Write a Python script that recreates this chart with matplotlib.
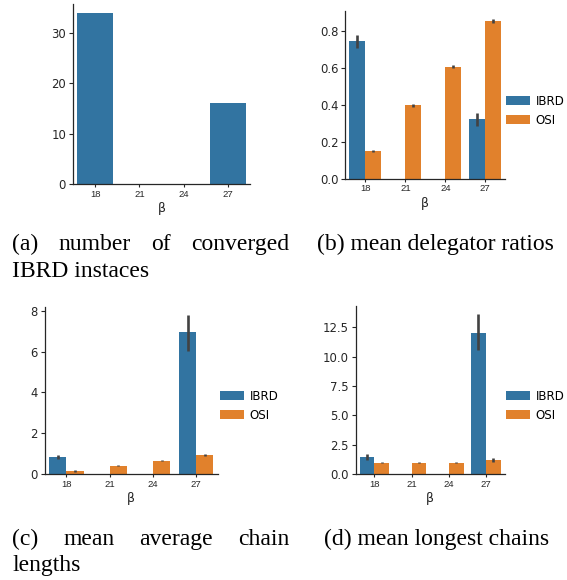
import matplotlib
matplotlib.use('Agg')
import numpy as np
from matplotlib import pyplot as plt

# data
betas = ['18', '21', '24', '27']
converged = [34, 0, 0, 16]

deleg_ibrd = [0.748, np.nan, np.nan, 0.322]
deleg_ibrd_lo = [0.710, np.nan, np.nan, 0.286]
deleg_ibrd_hi = [0.778, np.nan, np.nan, 0.356]
deleg_osi = [0.149, 0.397, 0.607, 0.855]
deleg_osi_lo = [0.143, 0.388, 0.597, 0.845]
deleg_osi_hi = [0.155, 0.405, 0.618, 0.866]

avg_ibrd = [0.83, np.nan, np.nan, 6.96]
avg_ibrd_lo = [0.72, np.nan, np.nan, 6.03]
avg_ibrd_hi = [0.93, np.nan, np.nan, 7.82]
avg_osi = [0.15, 0.39, 0.64, 0.93]
avg_osi_lo = [0.12, 0.37, 0.62, 0.90]
avg_osi_hi = [0.18, 0.42, 0.67, 0.97]

long_ibrd = [1.47, np.nan, np.nan, 12.0]
long_ibrd_lo = [1.19, np.nan, np.nan, 10.54]
long_ibrd_hi = [1.70, np.nan, np.nan, 13.66]
long_osi = [0.96, 0.97, 0.96, 1.19]
long_osi_lo = [0.93, 0.94, 0.93, 1.00]
long_osi_hi = [1.00, 1.00, 1.00, 1.39]

labels = ['IBRD', 'OSI']
BLUE = '#3274a1'
ORANGE = '#e1812c'
ERR = '#424242'
INK = '#262626'

W, H = 567, 580
fig = plt.figure(figsize=(W / 100, H / 100), dpi=100)


def px_axes(left, top, right, bottom):
    return fig.add_axes([left / W, 1 - bottom / H, (right - left) / W, (bottom - top) / H])


def style(ax):
    for s in ['top', 'right']:
        ax.spines[s].set_visible(False)
    for s in ['left', 'bottom']:
        ax.spines[s].set_linewidth(0.9)
        ax.spines[s].set_color(INK)
    ax.tick_params(axis='y', labelsize=8.4, length=3, width=0.8, pad=2, colors=INK)
    ax.tick_params(axis='x', labelsize=6.8, length=2.5, width=0.8, pad=1.5, colors=INK)
    ax.set_xlim(-0.5, len(betas) - 0.5)
    ax.set_xticks(range(len(betas)))
    ax.set_xticklabels(betas, family='Liberation Sans')
    ax.set_xlabel('β', fontsize=9, color=INK, labelpad=2.5)


def err(ax, xs, lo, hi):
    for x, a, b in zip(xs, lo, hi):
        if np.isnan(a):
            continue
        ax.plot([x, x], [a, b], color=ERR, lw=1.9, solid_capstyle='butt')


def grouped(ax, ibrd, ibrd_lo, ibrd_hi, osi, osi_lo, osi_hi, legend_px):
    x = np.arange(len(betas))
    ax.bar(x - 0.2, np.nan_to_num(ibrd), 0.4, color=BLUE, label=labels[0])
    ax.bar(x + 0.2, osi, 0.4, color=ORANGE, label=labels[1])
    err(ax, x - 0.2, ibrd_lo, ibrd_hi)
    err(ax, x + 0.2, osi_lo, osi_hi)
    top = np.nanmax(np.concatenate([ibrd_hi, osi_hi]))
    ax.set_ylim(0, top * 1.05)
    style(ax)
    ax.legend(loc='center left', bbox_to_anchor=(legend_px[0] / W, 1 - legend_px[1] / H),
              bbox_transform=fig.transFigure, frameon=False, fontsize=8.6,
              borderpad=0, borderaxespad=0, handlelength=2.0, handleheight=0.72,
              handletextpad=0.5, labelspacing=0.5)


# (a)
ax_a = px_axes(73, 4, 250, 184)
ax_a.bar(np.arange(len(betas)), converged, 0.8, color=BLUE)
ax_a.set_ylim(0, max(converged) * 1.05)
style(ax_a)

# (b)
ax_b = px_axes(345.3, 10.7, 505.3, 178.7)
grouped(ax_b, deleg_ibrd, deleg_ibrd_lo, deleg_ibrd_hi,
        deleg_osi, deleg_osi_lo, deleg_osi_hi, (506, 110.8))

# (c)
ax_c = px_axes(44.8, 306.7, 217.8, 474)
grouped(ax_c, avg_ibrd, avg_ibrd_lo, avg_ibrd_hi,
        avg_osi, avg_osi_lo, avg_osi_hi, (220, 405.9))

# (d)
ax_d = px_axes(355.8, 305.7, 504.5, 474)
grouped(ax_d, long_ibrd, long_ibrd_lo, long_ibrd_hi,
        long_osi, long_osi_lo, long_osi_hi, (506, 405.9))

# captions, set in a Times-like face, first lines justified
CAP = dict(family='Liberation Serif', fontsize=17, color='black', va='baseline')
renderer = fig.canvas.get_renderer()


def justified(words, x0, x1, y):
    texts = [fig.text(0, 1 - y / H, w, ha='left', **CAP) for w in words]
    widths = [t.get_window_extent(renderer).width for t in texts]
    gap = (x1 - x0 - sum(widths)) / (len(words) - 1)
    x = x0
    for t, w in zip(texts, widths):
        t.set_x(x / W)
        x += w + gap


def line(text, x0, y):
    fig.text(x0 / W, 1 - y / H, text, ha='left', **CAP)


justified(['(a)', 'number', 'of', 'converged'], 12, 289, 250)
line('IBRD instaces', 12, 277)
line('(b) mean delegator ratios', 317, 250)
justified(['(c)', 'mean', 'average', 'chain'], 12, 289, 545)
line('lengths', 12, 571)
line('(d) mean longest chains', 324.3, 545)

fig.savefig('out.png', dpi=100)
